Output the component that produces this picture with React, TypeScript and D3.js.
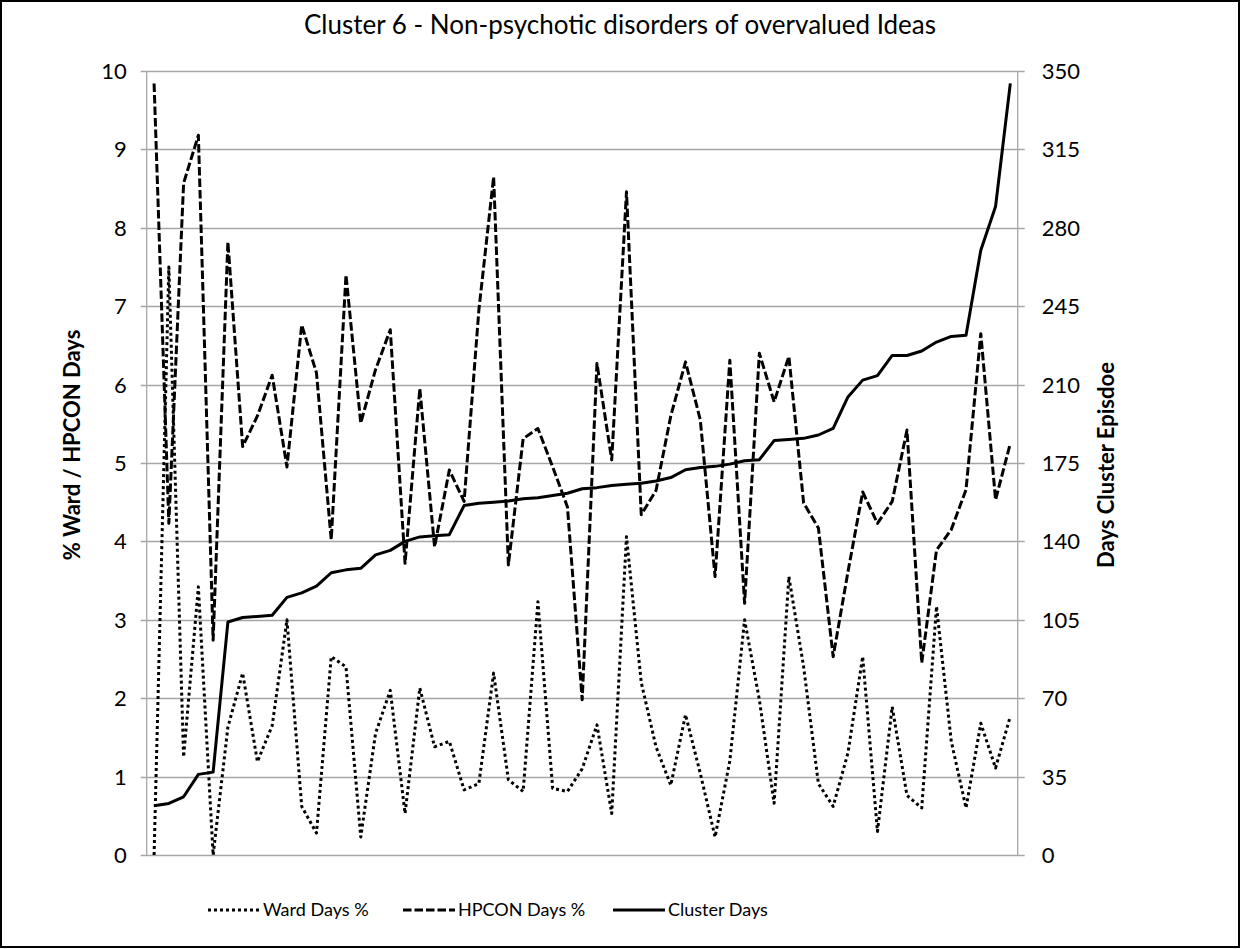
import React from "react";
import * as d3 from "d3";

const title = "Cluster 6 - Non-psychotic disorders of overvalued Ideas";
const leftAxisTitle = "% Ward / HPCON Days";
const rightAxisTitle = "Days Cluster Episdoe";
const leftTicks = [0, 1, 2, 3, 4, 5, 6, 7, 8, 9, 10];
const rightTicks = [0, 35, 70, 105, 140, 175, 210, 245, 280, 315, 350];

const wardDays = [
  0, 7.5, 1.25, 3.42, 0, 1.63, 2.32, 1.19, 1.65, 3.0,
  0.62, 0.28, 2.53, 2.4, 0.23, 1.55, 2.1, 0.53, 2.13, 1.38,
  1.45, 0.83, 0.91, 2.32, 0.96, 0.81, 3.23, 0.85, 0.81, 1.1,
  1.66, 0.53, 4.06, 2.2, 1.38, 0.89, 1.79, 1.04, 0.23, 1.2,
  3.0, 1.98, 0.66, 3.55, 2.4, 0.91, 0.62, 1.3, 2.53, 0.3,
  1.89, 0.76, 0.6, 3.17, 1.45, 0.6, 1.68, 1.11, 1.77,
];

const hpconDays = [
  9.84, 4.23, 8.57, 9.18, 2.74, 7.82, 5.21, 5.6, 6.12, 4.95,
  6.76, 6.15, 4.02, 7.4, 5.51, 6.19, 6.7, 3.72, 5.95, 3.93,
  4.91, 4.51, 6.95, 8.65, 3.7, 5.31, 5.44, 4.95, 4.44, 1.98,
  6.27, 5.04, 8.46, 4.34, 4.65, 5.6, 6.29, 5.55, 3.55, 6.31,
  3.21, 6.4, 5.78, 6.36, 4.49, 4.17, 2.53, 3.61, 4.63, 4.23,
  4.51, 5.42, 2.45, 3.89, 4.15, 4.66, 6.65, 4.53, 5.25,
];

const clusterDays = [
  22, 23, 26, 36, 37, 104, 106, 106.5, 107, 115,
  117, 120, 126, 127.3, 128, 134, 136, 140, 142, 142.5,
  143, 156, 157, 157.5, 158, 159, 159.5, 160.5, 161.5, 163.5,
  164, 165, 165.5, 166, 167, 168.5, 172, 173, 173.5, 174.5,
  176, 176.5, 185, 185.5, 186, 187.5, 190.5, 204.5, 212, 214,
  223, 223, 225, 229, 231.5, 232, 270, 289.5, 344.5,
];

const legendItems = [
  { label: "Ward Days %", dash: "3 3" },
  { label: "HPCON Days %", dash: "8.5 3" },
  { label: "Cluster Days", dash: null as string | null },
];

const W = 1240;
const H = 949;
const FONT = "Lato, 'Open Sans', sans-serif";

export default function App() {
  const plot = { left: 146.7, right: 1017.7, top: 71, bottom: 855 };
  const idx = d3.range(clusterDays.length);
  const x = d3.scaleBand<number>().domain(idx).range([plot.left, plot.right]);
  const cx = (i: number) => (x(i) as number) + x.bandwidth() / 2;
  const yL = d3.scaleLinear().domain([0, 10]).range([plot.bottom, plot.top]);
  const yR = d3.scaleLinear().domain([0, 350]).range([plot.bottom, plot.top]);

  const lineL = d3.line<number>().x((_, i) => cx(i)).y((d) => yL(d));
  const lineR = d3.line<number>().x((_, i) => cx(i)).y((d) => yR(d));

  const gridColor = "#a6a6a6";
  const lw = 3;

  const legendX = [208, 403, 613];
  const legendY = 910;

  return (
    <svg
      width={W}
      height={H}
      style={{ position: "absolute", left: 0, top: 0, background: "#fff" }}
      fontFamily={FONT}
    >
      <rect x={0} y={0} width={W} height={H} fill="#fff" />
      <rect x={1} y={1} width={W - 2} height={H - 3} fill="none" stroke="#000" strokeWidth={2} />

      <text x={620} y={34} textAnchor="middle" fontSize={26} fill="#000">
        {title}
      </text>

      {/* gridlines */}
      {leftTicks.map((t) => (
        <line
          key={"g" + t}
          x1={plot.left - 6}
          x2={plot.right + 7}
          y1={Math.round(yL(t)) + 0.5}
          y2={Math.round(yL(t)) + 0.5}
          stroke={gridColor}
          strokeWidth={1.3}
        />
      ))}
      <line x1={plot.left} x2={plot.left} y1={plot.top} y2={plot.bottom} stroke={gridColor} strokeWidth={1.3} />
      <line x1={plot.right} x2={plot.right} y1={plot.top} y2={plot.bottom} stroke={gridColor} strokeWidth={1.3} />

      {/* tick labels */}
      {leftTicks.map((t) => (
        <text key={"l" + t} x={plot.left - 20} y={yL(t)} dy="0.36em" textAnchor="end" fontSize={22} fill="#000">
          {t}
        </text>
      ))}
      {rightTicks.map((t) => (
        <text key={"r" + t} x={plot.right + 24} y={yR(t)} dy="0.36em" textAnchor="start" fontSize={22} fill="#000">
          {t}
        </text>
      ))}

      <text
        transform={`translate(${80},${445}) rotate(-90)`}
        textAnchor="middle"
        fontSize={22}
        fontWeight="bold"
        fill="#000"
      >
        {leftAxisTitle}
      </text>
      <text
        transform={`translate(${1114},${465}) rotate(-90)`}
        textAnchor="middle"
        fontSize={22}
        fontWeight="bold"
        fill="#000"
      >
        {rightAxisTitle}
      </text>

      {/* series */}
      <path d={lineL(wardDays) || ""} fill="none" stroke="#000" strokeWidth={lw} strokeDasharray="3 3" strokeLinejoin="round" />
      <path d={lineL(hpconDays) || ""} fill="none" stroke="#000" strokeWidth={lw} strokeDasharray="8.5 3" strokeLinejoin="round" />
      <path d={lineR(clusterDays) || ""} fill="none" stroke="#000" strokeWidth={lw} strokeLinejoin="round" />

      {/* legend */}
      {legendItems.map((it, i) => (
        <g key={it.label}>
          <line
            x1={legendX[i]}
            x2={legendX[i] + 52}
            y1={legendY}
            y2={legendY}
            stroke="#000"
            strokeWidth={lw}
            strokeDasharray={it.dash || undefined}
          />
          <text x={legendX[i] + 55} y={legendY} dy="0.35em" fontSize={18} fill="#000">
            {it.label}
          </text>
        </g>
      ))}
    </svg>
  );
}
